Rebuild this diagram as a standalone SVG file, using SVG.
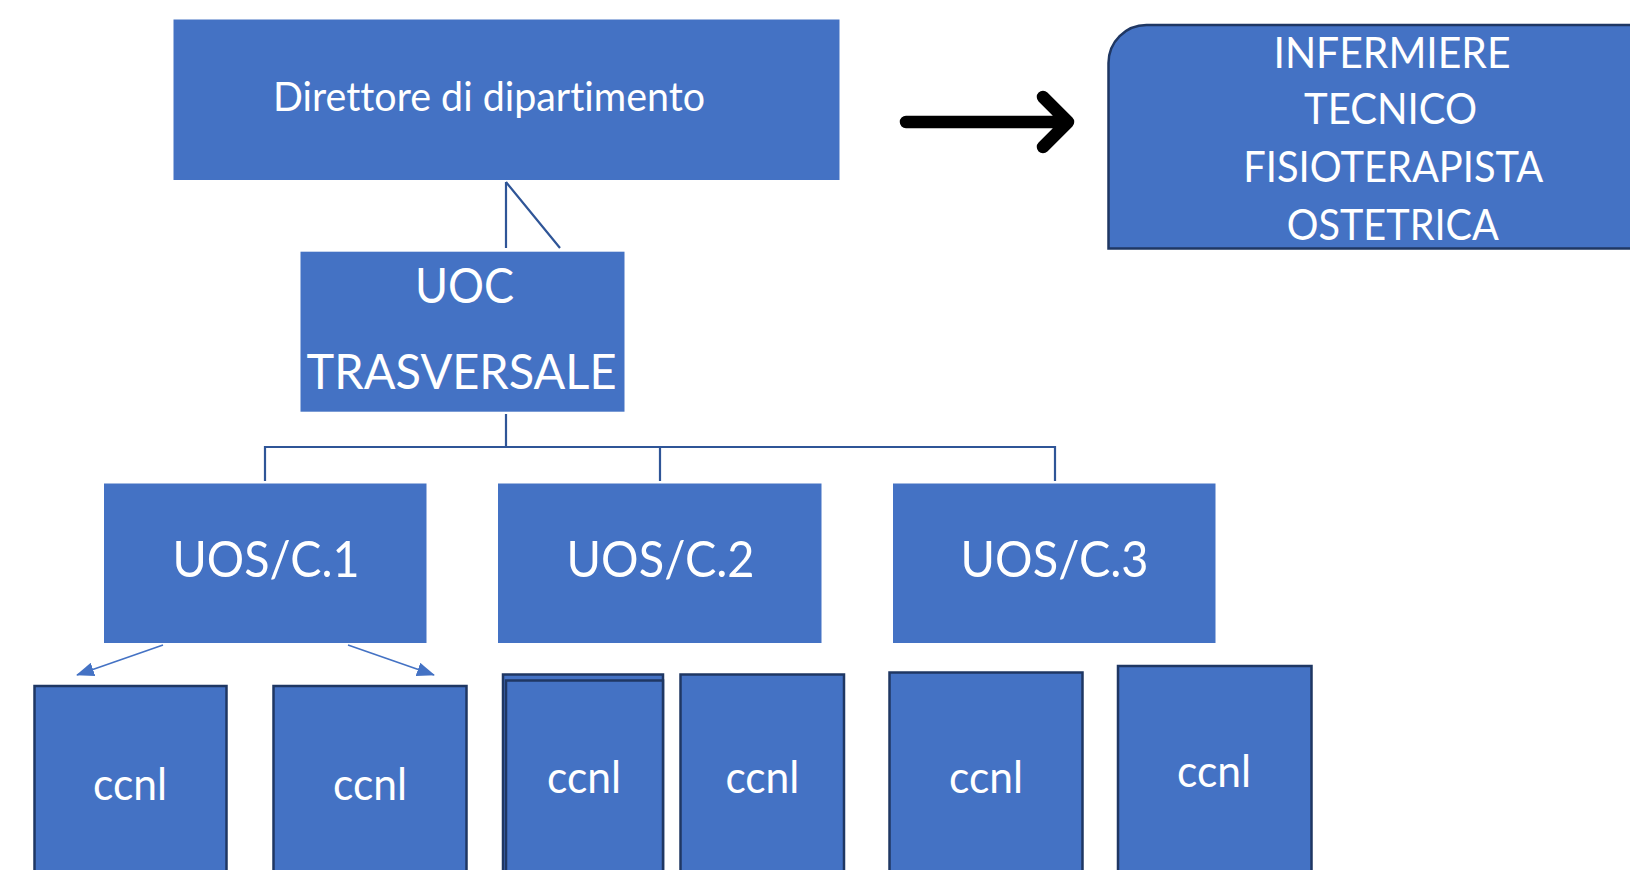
<svg xmlns="http://www.w3.org/2000/svg" width="1630" height="870" viewBox="0 0 1630 870">
<defs>
<style>
.box{fill:#4472C4;}
.obox{fill:#4472C4;stroke:#1F3763;stroke-width:2.5;}
.t{font-family:Lato,"Open Sans","Liberation Sans",sans-serif;fill:#FFFFFF;text-anchor:middle;font-variant-ligatures:none;font-feature-settings:"liga" 0,"clig" 0;}
.tree{stroke:#2F5597;stroke-width:2.2;fill:none;}
.sub{stroke:#4472C4;stroke-width:1.6;fill:none;}
</style>
<marker id="ah" viewBox="0 0 18 14" refX="17" refY="7" markerWidth="18" markerHeight="14" markerUnits="userSpaceOnUse" orient="auto">
<path d="M0,0 L18,7 L0,14 Z" fill="#4472C4"/>
</marker>
</defs>
<rect width="1630" height="870" fill="#FFFFFF"/>

<g id="connectors">
<path class="tree" d="M506,182 V248 M506,182 L560,248"/>
<path class="tree" d="M506,414 V447 M265,447 H1055 M265,446 V481 M660,447 V481 M1055,446 V481"/>
<path class="sub" d="M163,645 L77,675" marker-end="url(#ah)"/>
<path class="sub" d="M348,645 L434,675" marker-end="url(#ah)"/>
<path d="M906,122 H1068 M1043,97 L1068,122 L1043,147" stroke="#000000" stroke-width="12.5" stroke-linecap="round" stroke-linejoin="round" fill="none"/>
</g>

<g id="direttore">
<rect class="box" x="173.5" y="19.5" width="666" height="160.5"/>
<text class="t" x="489" y="110.5" font-size="40" textLength="432" lengthAdjust="spacingAndGlyphs">Direttore di dipartimento</text>
</g>

<g id="profili">
<path class="obox" d="M1108.5,248.5 V63 A38,38 0 0 1 1146.5,25 H1640 V248.5 Z"/>
<text class="t" x="1392" y="68.3" font-size="42" textLength="237" lengthAdjust="spacingAndGlyphs">INFERMIERE</text>
<text class="t" x="1390.5" y="123.5" font-size="42" textLength="173" lengthAdjust="spacingAndGlyphs">TECNICO</text>
<text class="t" x="1393.3" y="181.7" font-size="42" textLength="300" lengthAdjust="spacingAndGlyphs">FISIOTERAPISTA</text>
<text class="t" x="1392.8" y="240" font-size="42" textLength="212" lengthAdjust="spacingAndGlyphs">OSTETRICA</text>
</g>

<g id="uoc">
<rect class="box" x="300.5" y="251.7" width="324" height="160"/>
<text class="t" x="464.4" y="303.3" font-size="49" textLength="99" lengthAdjust="spacingAndGlyphs">UOC</text>
<text class="t" x="461.6" y="389" font-size="49" textLength="310" lengthAdjust="spacingAndGlyphs">TRASVERSALE</text>
</g>

<g id="uos1">
<rect class="box" x="104" y="483.5" width="322.5" height="159.5"/>
<text class="t" x="266" y="577.3" font-size="50" textLength="187" lengthAdjust="spacingAndGlyphs">UOS/C.1</text>
</g>
<g id="uos2">
<rect class="box" x="498" y="483.5" width="323.5" height="159.5"/>
<text class="t" x="660.6" y="577.3" font-size="50" textLength="188" lengthAdjust="spacingAndGlyphs">UOS/C.2</text>
</g>
<g id="uos3">
<rect class="box" x="893" y="483.5" width="322.5" height="159.5"/>
<text class="t" x="1054.6" y="577.3" font-size="50" textLength="188" lengthAdjust="spacingAndGlyphs">UOS/C.3</text>
</g>

<g id="ccnl1">
<rect class="obox" x="34.5" y="686" width="192" height="200"/>
<text class="t" x="130" y="800" font-size="45" textLength="74" lengthAdjust="spacingAndGlyphs">ccnl</text>
</g>
<g id="ccnl2">
<rect class="obox" x="273.5" y="686" width="193" height="200"/>
<text class="t" x="370" y="800" font-size="45" textLength="74" lengthAdjust="spacingAndGlyphs">ccnl</text>
</g>
<g id="ccnl3">
<rect class="obox" x="503" y="674.5" width="160" height="210"/>
<rect class="obox" x="506" y="680.5" width="157" height="210"/>
<text class="t" x="584" y="793.3" font-size="45" textLength="74" lengthAdjust="spacingAndGlyphs">ccnl</text>
</g>
<g id="ccnl4">
<rect class="obox" x="680.5" y="674.5" width="163.5" height="210"/>
<text class="t" x="762.4" y="793.3" font-size="45" textLength="74" lengthAdjust="spacingAndGlyphs">ccnl</text>
</g>
<g id="ccnl5">
<rect class="obox" x="889.5" y="672.5" width="193" height="210"/>
<text class="t" x="986" y="793.3" font-size="45" textLength="74" lengthAdjust="spacingAndGlyphs">ccnl</text>
</g>
<g id="ccnl6">
<rect class="obox" x="1118" y="666" width="193.5" height="220"/>
<text class="t" x="1214" y="786.7" font-size="45" textLength="74" lengthAdjust="spacingAndGlyphs">ccnl</text>
</g>
</svg>
